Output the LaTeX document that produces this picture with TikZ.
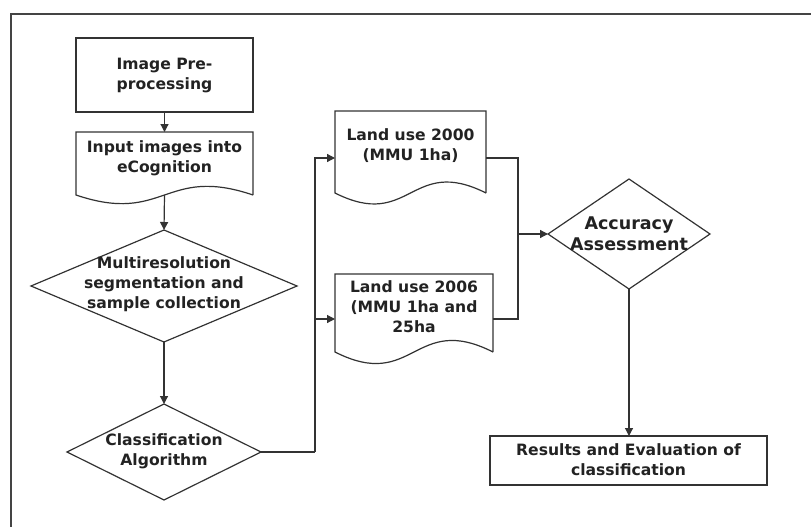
\documentclass[tikz,border=0pt]{standalone}
\usepackage{fontspec}
\setmainfont{DejaVu Sans}
\usetikzlibrary{arrows.meta,shapes.geometric,calc}
\definecolor{linec}{HTML}{333333}
\definecolor{textc}{HTML}{222222}
\definecolor{framec}{HTML}{444444}
\begin{document}
\begin{tikzpicture}[x=1pt,y=-1pt,
  every node/.style={inner sep=0pt,outer sep=0pt},
  shp/.style={draw=linec,line width=1.2pt},
  box/.style={shp,rectangle},
  docbox/.style={rectangle},
  dia/.style={shp,diamond},
  txt/.style={text=textc,align=center,font=\bfseries\fontsize{15.6}{20}\selectfont},
  bigtxt/.style={text=textc,align=center,font=\bfseries\fontsize{17.5}{21}\selectfont},
  conn/.style={draw=linec,line width=1.2pt},
  arr/.style={conn,-{Triangle[length=8pt,width=8pt]}},
  framel/.style={draw=framec,line width=1.6pt}
]
\useasboundingbox (0,0) rectangle (811,527);
\draw[framel] (11,530) -- (11,14) -- (815,14);

% Image pre-processing
\node[box,minimum width=177,minimum height=74] (pre) at (164.5,75) {};
\node[txt] (preT) at (pre.center) {Image Pre-\\processing};

% Input document
\node[docbox,minimum width=177,minimum height=63] (inp) at (164.5,163.5) {};
\draw[shp] (inp.south east) -- (inp.north east) -- (inp.north west) -- (inp.south west)
  .. controls ($(inp.south)+(0,30)$) and ($(inp.south)+(0,-30)$) .. (inp.south east);
\node[txt] (inpT) at (164.5,158) {Input images into\\eCognition};

% Multiresolution diamond
\node[dia,minimum width=266,minimum height=112] (multi) at (164,286) {};
\node[txt] (multiT) at (164,284) {Multiresolution\\segmentation and\\sample collection};

% Classification diamond
\node[dia,minimum width=194,minimum height=96] (cls) at (164,452) {};
\node[txt] (clsT) at (164,451.5) {Classification\\Algorithm};

% Land use 2000
\node[docbox,minimum width=151,minimum height=82] (l2000) at (410.5,152) {};
\draw[shp] (l2000.south east) -- (l2000.north east) -- (l2000.north west) -- (l2000.south west)
  .. controls ($(l2000.south)+(0,38)$) and ($(l2000.south)+(0,-38)$) .. (l2000.south east);
\node[txt] (l2000T) at (410.5,146) {Land use 2000\\(MMU 1ha)};

% Land use 2006
\node[docbox,minimum width=158,minimum height=78] (l2006) at (414,313) {};
\draw[shp] (l2006.south east) -- (l2006.north east) -- (l2006.north west) -- (l2006.south west)
  .. controls ($(l2006.south)+(0,40)$) and ($(l2006.south)+(0,-40)$) .. (l2006.south east);
\node[txt] (l2006T) at (414,306.5) {Land use 2006\\(MMU 1ha and\\25ha};

% Accuracy diamond
\node[dia,minimum width=162,minimum height=110] (acc) at (629,234) {};
\node[bigtxt] (accT) at (629,233.5) {Accuracy\\Assessment};

% Results box
\node[box,minimum width=277,minimum height=49] (res) at (628.5,460.5) {};
\node[txt] (resT) at (628.5,459.5) {Results and Evaluation of\\classification};

% connectors
\coordinate (split) at (315,452);
\coordinate (merge) at (518,234);
\draw[arr] (pre.south) -- (inp.north);
\draw[arr] (inp.south) -- (multi.north);
\draw[arr] (multi.south) -- (cls.north);
\draw[conn] (cls.east) -- (split);
\draw[arr] (split) |- ($(l2000.west)+(0,6)$);
\draw[arr] (split) |- ($(l2006.west)+(0,6)$);
\draw[conn] ($(l2000.east)+(0,6)$) -| (merge);
\draw[conn] ($(l2006.east)+(0,6)$) -| (merge);
\draw[arr] (merge) -- (acc.west);
\draw[arr] (acc.south) -- (acc.south |- res.north);
\end{tikzpicture}
\end{document}
